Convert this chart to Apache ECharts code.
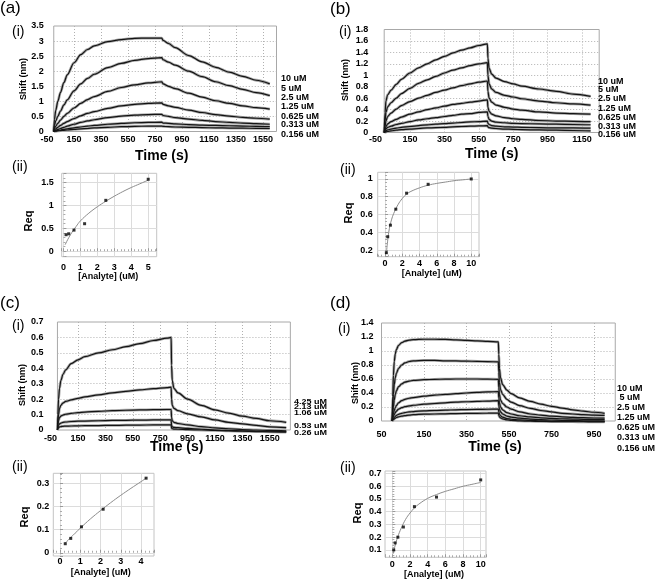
<!DOCTYPE html>
<html><head><meta charset="utf-8">
<script src="https://cdn.jsdelivr.net/npm/echarts@6/dist/echarts.min.js"></script>
<style>html,body{margin:0;padding:0;background:#fff}#c{width:656px;height:580px}</style>
</head><body><div id="c"></div>
<script>
// ---------------- DATA ----------------
// (a)(i)
const aTime = [0,5,15,30,50,75,100,150,200,250,300,400,500,600,700,800,810,850,900,1000,1100,1200,1300,1400,1500,1600];
const aShift10   = [0,0.4,0.7,1.0,1.3,1.62,1.88,2.28,2.55,2.72,2.84,2.98,3.05,3.09,3.1,3.1,3.02,2.92,2.78,2.52,2.31,2.13,1.97,1.83,1.7,1.58];
const aShift5    = [0,0.2,0.35,0.5,0.68,0.88,1.05,1.35,1.58,1.76,1.9,2.12,2.26,2.36,2.42,2.45,2.38,2.3,2.2,2.0,1.82,1.65,1.52,1.4,1.29,1.19];
const aShift2_5  = [0,0.1,0.18,0.27,0.38,0.5,0.6,0.78,0.93,1.06,1.16,1.33,1.46,1.55,1.61,1.65,1.58,1.5,1.42,1.27,1.14,1.02,0.93,0.85,0.79,0.74];
const aShift1_25 = [0,0.05,0.09,0.14,0.2,0.27,0.33,0.43,0.52,0.6,0.66,0.77,0.85,0.9,0.93,0.95,0.9,0.85,0.8,0.71,0.63,0.56,0.51,0.47,0.44,0.41];
const aShift0_625= [0,0.02,0.04,0.07,0.1,0.14,0.18,0.24,0.3,0.35,0.39,0.46,0.51,0.54,0.56,0.57,0.53,0.5,0.46,0.41,0.37,0.33,0.3,0.28,0.26,0.24];
const aShift0_313= [0,0.01,0.02,0.035,0.05,0.07,0.09,0.12,0.15,0.18,0.2,0.24,0.27,0.29,0.3,0.31,0.28,0.27,0.25,0.23,0.21,0.2,0.19,0.18,0.17,0.16];
const aShift0_156= [0,0.005,0.01,0.02,0.03,0.04,0.05,0.07,0.09,0.1,0.12,0.14,0.16,0.17,0.18,0.18,0.17,0.16,0.15,0.14,0.13,0.12,0.115,0.11,0.105,0.1];
const aConcLabels = ['10 uM','5 uM','2.5 uM','1.25 uM','0.625 uM','0.313 uM','0.156 uM'];
const aTickLabels = ['-50','150','350','550','750','950','1150','1350','1550'];
// (a)(ii)
const aConc = [0.156,0.313,0.625,1.25,2.5,5];
const aReq  = [0.36,0.38,0.46,0.6,1.11,1.57];
const aFitX = [0.1,0.25,0.5,0.75,1,1.5,2,2.5,3,3.5,4,4.5,5];
const aFitY = [0.14,0.25,0.41,0.54,0.66,0.83,0.97,1.09,1.2,1.3,1.39,1.47,1.55];

// (b)(i)
const bTime = [0,5,10,20,40,70,100,150,200,250,300,350,400,450,500,550,600,603,610,625,650,700,750,800,900,1000,1100,1200];
const bShift10   = [0,0.35,0.55,0.66,0.74,0.84,0.93,1.04,1.13,1.2,1.27,1.33,1.39,1.44,1.48,1.52,1.55,1.3,1.12,1.02,0.95,0.89,0.85,0.81,0.76,0.72,0.67,0.63];
const bShift5    = [0,0.2,0.35,0.45,0.52,0.6,0.68,0.77,0.86,0.92,0.98,1.04,1.09,1.13,1.17,1.2,1.22,1.0,0.85,0.76,0.7,0.65,0.62,0.59,0.55,0.52,0.5,0.48];
const bShift2_5  = [0,0.1,0.2,0.28,0.34,0.41,0.47,0.54,0.6,0.65,0.7,0.74,0.78,0.82,0.85,0.88,0.9,0.72,0.6,0.53,0.48,0.44,0.41,0.39,0.36,0.34,0.33,0.32];
const bShift1_25 = [0,0.05,0.1,0.15,0.19,0.23,0.27,0.32,0.36,0.4,0.43,0.46,0.49,0.51,0.53,0.55,0.57,0.44,0.37,0.32,0.29,0.26,0.24,0.23,0.21,0.2,0.195,0.19];
const bShift0_625= [0,0.03,0.06,0.09,0.11,0.14,0.16,0.19,0.22,0.24,0.26,0.28,0.3,0.32,0.33,0.35,0.36,0.28,0.23,0.2,0.18,0.17,0.16,0.155,0.15,0.145,0.14,0.135];
const bShift0_313= [0,0.01,0.03,0.045,0.06,0.075,0.09,0.105,0.12,0.135,0.145,0.155,0.165,0.175,0.185,0.19,0.2,0.16,0.14,0.12,0.11,0.1,0.095,0.09,0.085,0.08,0.08,0.075];
const bShift0_156= [0,0.005,0.01,0.02,0.03,0.04,0.05,0.06,0.07,0.08,0.085,0.09,0.1,0.105,0.11,0.115,0.12,0.1,0.085,0.075,0.07,0.06,0.055,0.05,0.045,0.04,0.035,0.03];
const bConcLabels = ['10 uM','5 uM','2.5 uM','1.25 uM','0.625 uM','0.313 uM','0.156 uM'];
const bTickLabels = ['-50','150','350','550','750','950','1150'];
// (b)(ii)
const bConc = [0.156,0.313,0.625,1.25,2.5,5,10];
const bReq  = [0.17,0.35,0.48,0.66,0.84,0.94,1.0];
const bFitX = [0.156,0.3,0.5,0.75,1,1.5,2,2.5,3,4,5,6,7,8,9,10];
const bFitY = [0.16,0.3,0.44,0.54,0.61,0.71,0.78,0.83,0.86,0.9,0.93,0.95,0.965,0.98,0.99,1.0];

// (c)(i)
const cTime = [0,3,8,15,25,40,60,100,150,200,300,400,500,600,700,800,830,833,838,850,880,950,1050,1150,1250,1350,1450,1550,1670];
const cShift4_25 = [0,0.1,0.2,0.27,0.32,0.36,0.39,0.43,0.455,0.475,0.5,0.52,0.54,0.56,0.58,0.595,0.6,0.42,0.32,0.27,0.24,0.2,0.16,0.13,0.11,0.09,0.075,0.06,0.05];
const cShift2_13 = [0,0.05,0.1,0.14,0.16,0.175,0.185,0.195,0.205,0.215,0.228,0.24,0.25,0.26,0.268,0.275,0.278,0.2,0.16,0.14,0.125,0.105,0.085,0.065,0.05,0.04,0.03,0.02,0.015];
const cShift1_06 = [0,0.03,0.06,0.08,0.09,0.097,0.102,0.108,0.112,0.116,0.121,0.125,0.128,0.13,0.132,0.133,0.133,0.08,0.06,0.05,0.042,0.033,0.022,0.014,0.008,0.003,0,-0.003,-0.005];
const cShift0_53 = [0,0.015,0.03,0.04,0.045,0.05,0.052,0.055,0.057,0.058,0.06,0.062,0.063,0.064,0.065,0.065,0.065,0.03,0.02,0.017,0.015,0.01,0.005,0,-0.003,-0.005,-0.007,-0.008,-0.01];
const cShift0_26 = [0,0.008,0.015,0.02,0.022,0.024,0.025,0.026,0.027,0.028,0.029,0.03,0.031,0.032,0.033,0.033,0.033,0.012,0.008,0.006,0.005,0.002,0,-0.003,-0.006,-0.008,-0.01,-0.012,-0.014];
const cConcLabels = ['4.25 uM','2.13 uM','1.06 uM','0.53 uM','0.26 uM'];
const cTickLabels = ['-50','150','350','550','750','950','1150','1350','1550'];
// (c)(ii)
const cConc = [0.26,0.53,1.06,2.13,4.25];
const cReq  = [0.039,0.062,0.112,0.188,0.322];
const cFitX = [0.26,0.5,1,1.5,2,2.5,3,3.5,4,4.25];
const cFitY = [0.042,0.063,0.106,0.146,0.182,0.216,0.248,0.278,0.307,0.322];

// (d)(i)
const dTime = [0,3,6,10,15,20,30,45,60,80,100,150,200,250,300,350,400,450,500,502,505,510,520,540,560,600,650,700,750,800,850,900,950,1000];
const dShift10   = [0,0.35,0.65,0.85,0.96,1.02,1.08,1.12,1.14,1.155,1.162,1.168,1.168,1.165,1.16,1.153,1.145,1.137,1.13,0.95,0.75,0.62,0.52,0.44,0.39,0.33,0.28,0.24,0.21,0.185,0.16,0.14,0.125,0.11];
const dShift5    = [0,0.2,0.38,0.52,0.62,0.68,0.75,0.8,0.83,0.85,0.86,0.865,0.865,0.86,0.858,0.855,0.852,0.848,0.845,0.7,0.55,0.45,0.38,0.31,0.27,0.22,0.18,0.15,0.13,0.11,0.1,0.09,0.085,0.08];
const dShift2_5  = [0,0.1,0.2,0.3,0.38,0.43,0.49,0.53,0.555,0.57,0.58,0.59,0.595,0.598,0.6,0.6,0.6,0.598,0.595,0.48,0.38,0.3,0.25,0.2,0.17,0.13,0.1,0.085,0.07,0.06,0.052,0.047,0.043,0.04];
const dShift1_25 = [0,0.05,0.1,0.15,0.19,0.22,0.26,0.29,0.31,0.325,0.335,0.355,0.37,0.38,0.39,0.4,0.41,0.415,0.42,0.33,0.26,0.2,0.16,0.12,0.1,0.075,0.058,0.046,0.038,0.032,0.028,0.024,0.022,0.02];
const dShift0_625= [0,0.03,0.06,0.09,0.12,0.14,0.17,0.19,0.205,0.215,0.225,0.24,0.25,0.26,0.27,0.275,0.28,0.285,0.29,0.22,0.17,0.13,0.1,0.07,0.055,0.04,0.028,0.02,0.014,0.01,0.006,0.003,0.001,0];
const dShift0_313= [0,0.02,0.035,0.05,0.065,0.08,0.095,0.11,0.12,0.13,0.135,0.145,0.15,0.155,0.16,0.163,0.166,0.168,0.17,0.13,0.1,0.075,0.055,0.035,0.025,0.015,0.008,0.003,0,-0.002,-0.003,-0.004,-0.005,-0.005];
const dShift0_156= [0,0.01,0.02,0.03,0.04,0.05,0.06,0.07,0.078,0.085,0.09,0.097,0.1,0.103,0.106,0.108,0.11,0.112,0.113,0.08,0.06,0.045,0.03,0.015,0.008,0.002,-0.003,-0.006,-0.008,-0.009,-0.01,-0.011,-0.012,-0.012];
const dConcLabels = ['10 uM',' 5 uM','2.5 uM','1.25 uM','0.625 uM','0.313 uM','0.156 uM'];
const dTickLabels = ['50','150','350','550','750','950'];
// (d)(ii)
const dConc = [0.156,0.313,0.625,1.25,2.5,5,10];
const dReq  = [0.1,0.155,0.2,0.28,0.44,0.515,0.65];
const dFitX = [0.1,0.3,0.6,1,1.5,2,2.5,3,4,5,6,7,8,9,10];
const dFitY = [0.07,0.13,0.2,0.27,0.34,0.39,0.43,0.46,0.505,0.535,0.56,0.58,0.6,0.615,0.63];

// ---------------- LAYOUT / BUILD ----------------
const FONT = '"Liberation Sans", Arial, Helvetica, sans-serif';
const grid = [], xAxis = [], yAxis = [], series = [], graphic = [];

function txt(text, x, y, size, weight, align, va, extra) {
  graphic.push(Object.assign({
    type: 'text', x: x, y: y, silent: true, z: 100,
    style: { text: text, fill: '#000', font: weight + ' ' + size + 'px ' + FONT, align: align || 'left', verticalAlign: va || 'top' }
  }, extra || {}));
}

function addMain(L, times, curves, tickLabels, concLabels) {
  const right = L.x0 + (L.tMax + 50) * L.pps;
  const leftMain = L.x0 + (L.tStart + 50) * L.pps;
  const h = L.bottom - L.top;
  // tick-label grid (axis starting at -50)
  const gl = grid.length;
  grid.push({ left: L.x0, top: L.top, width: right - L.x0, height: h, show: false, containLabel: false, outerBoundsMode: 'none' });
  xAxis.push({ gridIndex: gl, type: 'value', min: -50, max: L.tMax, interval: 200,
    axisLine: { show: false }, axisTick: { show: false },
    axisLabel: { show: true, margin: L.xlm, fontSize: 9, fontWeight: 'bold', fontFamily: FONT, color: '#000',
      showMinLabel: true, showMaxLabel: false,
      formatter: function (v) {
        const k = Math.round((v + 50) / 200);
        if (Math.abs(k * 200 - 50 - v) > 1e-6) return '';
        return tickLabels[k] !== undefined ? tickLabels[k] : '';
      } },
    splitLine: { show: true, showMinLine: false, showMaxLine: false, lineStyle: { color: '#b0b0b0', width: 1, type: [1, 2] } } });
  yAxis.push({ gridIndex: gl, type: 'value', min: 0, max: L.yMax, show: false });
  // data grid
  const gm = grid.length;
  grid.push({ left: leftMain, top: L.top, width: right - leftMain, height: h, show: true, borderColor: '#a8a8a8', borderWidth: 1,
    backgroundColor: 'rgba(0,0,0,0)', containLabel: false, outerBoundsMode: 'none' });
  const xi = xAxis.length, yi = yAxis.length;
  xAxis.push({ gridIndex: gm, type: 'value', min: L.tStart, max: L.tMax, show: false, splitLine: { show: false } });
  yAxis.push({ gridIndex: gm, type: 'value', min: 0, max: L.yMax, interval: L.yInt,
    axisLine: { show: false }, axisTick: { show: false },
    axisLabel: { margin: L.ylm, fontSize: 9, fontWeight: 'bold', fontFamily: FONT, color: '#000' },
    splitLine: { show: true, showMinLine: false, showMaxLine: false, lineStyle: { color: '#b0b0b0', width: 1, type: [1, 2] } } });
  curves.forEach(function (arr) {
    series.push({ type: 'line', xAxisIndex: xi, yAxisIndex: yi, data: times.map(function (t, k) { return [t, arr[k]]; }),
      symbol: 'none', smooth: 0.3, smoothMonotone: 'x', clip: false, silent: true, z: 2,
      lineStyle: { color: '#a9a9a9', width: 2.8 } });
  });
  curves.forEach(function (arr) {
    series.push({ type: 'line', xAxisIndex: xi, yAxisIndex: yi, data: times.map(function (t, k) { return [t, arr[k]]; }),
      symbol: 'none', smooth: 0.3, smoothMonotone: 'x', clip: false, silent: true, z: 3,
      lineStyle: { color: '#141414', width: 1.2 } });
  });
  concLabels.forEach(function (s, k) {
    txt(s, L.labX, L.labY[k], 9, 'bold', 'left', 'middle', L.labScaleY ? { scaleY: L.labScaleY } : null);
  });
}

function addSmall(L, cx, cy, fx, fy) {
  const g = grid.length;
  grid.push({ left: L.left, top: L.top, width: L.right - L.left, height: L.bottom - L.top, show: true,
    borderColor: '#c4c4c4', borderWidth: 1, backgroundColor: 'rgba(0,0,0,0)', containLabel: false, outerBoundsMode: 'none' });
  const common = function (min, max, split, margin) {
    return { gridIndex: g, type: 'value', min: min, max: max, splitNumber: split,
      axisLine: { show: false },
      axisTick: { show: true, inside: true, length: 3, lineStyle: { color: '#999' } },
      minorTick: { show: true, splitNumber: 5, length: 2, lineStyle: { color: '#aaa' } },
      axisLabel: { margin: margin, fontSize: 9, fontWeight: 'bold', fontFamily: FONT, color: '#000', showMinLabel: false, showMaxLabel: false },
      splitLine: { show: true, showMinLine: false, showMaxLine: false, lineStyle: { color: '#dcdcdc', width: 1 } },
      minorSplitLine: { show: false } };
  };
  const xi = xAxis.length, yi = yAxis.length;
  xAxis.push(common(L.xMin, L.xMax, L.xSplit, L.xlm));
  yAxis.push(common(L.yMin, L.yMax, L.ySplit, L.ylm));
  series.push({ type: 'line', xAxisIndex: xi, yAxisIndex: yi, data: fx.map(function (x, k) { return [x, fy[k]]; }),
    symbol: 'none', smooth: 0.4, silent: true, z: 2, lineStyle: { color: '#8c8c8c', width: 1 } });
  series.push({ type: 'scatter', xAxisIndex: xi, yAxisIndex: yi, data: cx.map(function (x, k) { return [x, cy[k]]; }),
    symbol: 'rect', symbolSize: 3, silent: true, z: 3, itemStyle: { color: '#000' } });
}

// Main sensorgram panels
addMain({ x0: 47, pps: 0.135, tStart: 0, tMax: 1650, top: 26, bottom: 131.5, yMax: 3.5, yInt: 0.5, ylm: 10, xlm: 4,
  labX: 281, labY: [79, 89, 97.5, 107, 116.7, 125, 135] },
  aTime, [aShift10, aShift5, aShift2_5, aShift1_25, aShift0_625, aShift0_313, aShift0_156], aTickLabels, aConcLabels);
addMain({ x0: 375.6, pps: 0.172, tStart: 0, tMax: 1250, top: 29.5, bottom: 132.5, yMax: 1.8, yInt: 0.2, ylm: 16, xlm: 3,
  labX: 598, labY: [82, 90, 99, 109, 118, 126.5, 135] },
  bTime, [bShift10, bShift5, bShift2_5, bShift1_25, bShift0_625, bShift0_313, bShift0_156], bTickLabels, bConcLabels);
addMain({ x0: 50.6, pps: 0.137, tStart: 0, tMax: 1700, top: 322, bottom: 430, yMax: 0.7, yInt: 0.1, ylm: 14, xlm: 4,
  labX: 294, labY: [401.7, 407.3, 413.3, 426, 433.3], labScaleY: 0.75 },
  cTime, [cShift4_25, cShift2_13, cShift1_06, cShift0_53, cShift0_26], cTickLabels, cConcLabels);
addMain({ x0: 381.5, pps: 0.2125, tStart: -50, tMax: 1050, top: 323, bottom: 421, yMax: 1.4, yInt: 0.2, ylm: 8, xlm: 9,
  labX: 617, labY: [389, 397.7, 407.3, 417.3, 427.3, 437.7, 448.3] },
  dTime, [dShift10, dShift5, dShift2_5, dShift1_25, dShift0_625, dShift0_313, dShift0_156], dTickLabels, dConcLabels);

// Req vs analyte panels
addSmall({ left: 61.7, top: 173.3, right: 156.7, bottom: 256.7, xMin: -0.1, xMax: 5.5, yMin: -0.12, yMax: 1.7, xSplit: 5, ySplit: 4, xlm: 6, ylm: 8 },
  aConc, aReq, aFitX, aFitY);
addSmall({ left: 377.7, top: 172.3, right: 479, bottom: 256.7, xMin: -0.85, xMax: 10.9, yMin: 0.125, yMax: 1.075, xSplit: 5, ySplit: 5, xlm: 2, ylm: 5 },
  bConc, bReq, bFitX, bFitY);
addSmall({ left: 53.3, top: 473.3, right: 154, bottom: 556, xMin: -0.33, xMax: 4.64, yMin: -0.014, yMax: 0.343, xSplit: 5, ySplit: 4, xlm: 1.5, ylm: 4 },
  cConc, cReq, cFitX, cFitY);
addSmall({ left: 385, top: 471, right: 486, bottom: 557.3, xMin: -0.83, xMax: 10.6, yMin: 0.042, yMax: 0.72, xSplit: 5, ySplit: 7, xlm: 2.5, ylm: 3.5 },
  dConc, dReq, dFitX, dFitY);

// Panel letters and sub-labels
txt('(a)', 0, 0, 17, 'normal');
txt('(b)', 330, 1, 17, 'normal');
txt('(c)', 0, 295, 17, 'normal');
txt('(d)', 330, 295, 17, 'normal');
txt('(i)', 12, 25, 14, 'normal');
txt('(i)', 339, 25, 14, 'normal');
txt('(i)', 12, 319, 14, 'normal');
txt('(i)', 338, 322, 14, 'normal');
txt('(ii)', 12, 160, 14, 'normal');
txt('(ii)', 340, 163, 14, 'normal');
txt('(ii)', 12, 460, 14, 'normal');
txt('(ii)', 340, 461, 14, 'normal');

// Axis titles
const rot = { rotation: Math.PI / 2 };
txt('Shift (nm)', 23.5, 79, 9, 'bold', 'center', 'middle', rot);
txt('Shift (nm)', 346, 80, 9, 'bold', 'center', 'middle', rot);
txt('Shift (nm)', 23, 385, 9, 'bold', 'center', 'middle', rot);
txt('Shift (nm)', 356, 383, 9, 'bold', 'center', 'middle', rot);
txt('Time (s)', 161.7, 156, 14, 'bold', 'center', 'middle');
txt('Time (s)', 491.7, 154, 14, 'bold', 'center', 'middle');
txt('Time (s)', 176.7, 446.7, 14, 'bold', 'center', 'middle');
txt('Time (s)', 495, 447.3, 14, 'bold', 'center', 'middle');
txt('Req', 29, 221, 11, 'bold', 'center', 'middle', rot);
txt('Req', 349, 213, 11, 'bold', 'center', 'middle', rot);
txt('Req', 25, 517, 11, 'bold', 'center', 'middle', rot);
txt('Req', 358, 513, 11, 'bold', 'center', 'middle', rot);
txt('[Analyte] (uM)', 108.3, 276.7, 9, 'bold', 'center', 'middle');
txt('[Analyte] (uM)', 431.7, 273.3, 9, 'bold', 'center', 'middle');
txt('[Analyte] (uM)', 100.7, 572.5, 9, 'bold', 'center', 'middle');
txt('[Analyte] (uM)', 434, 575, 9, 'bold', 'center', 'middle');

const chart = echarts.init(document.getElementById('c'), null, { renderer: 'canvas' });
chart.setOption({
  animation: false,
  backgroundColor: '#fff',
  textStyle: { fontFamily: FONT },
  grid: grid, xAxis: xAxis, yAxis: yAxis, series: series, graphic: graphic
});
</script>
</body></html>
